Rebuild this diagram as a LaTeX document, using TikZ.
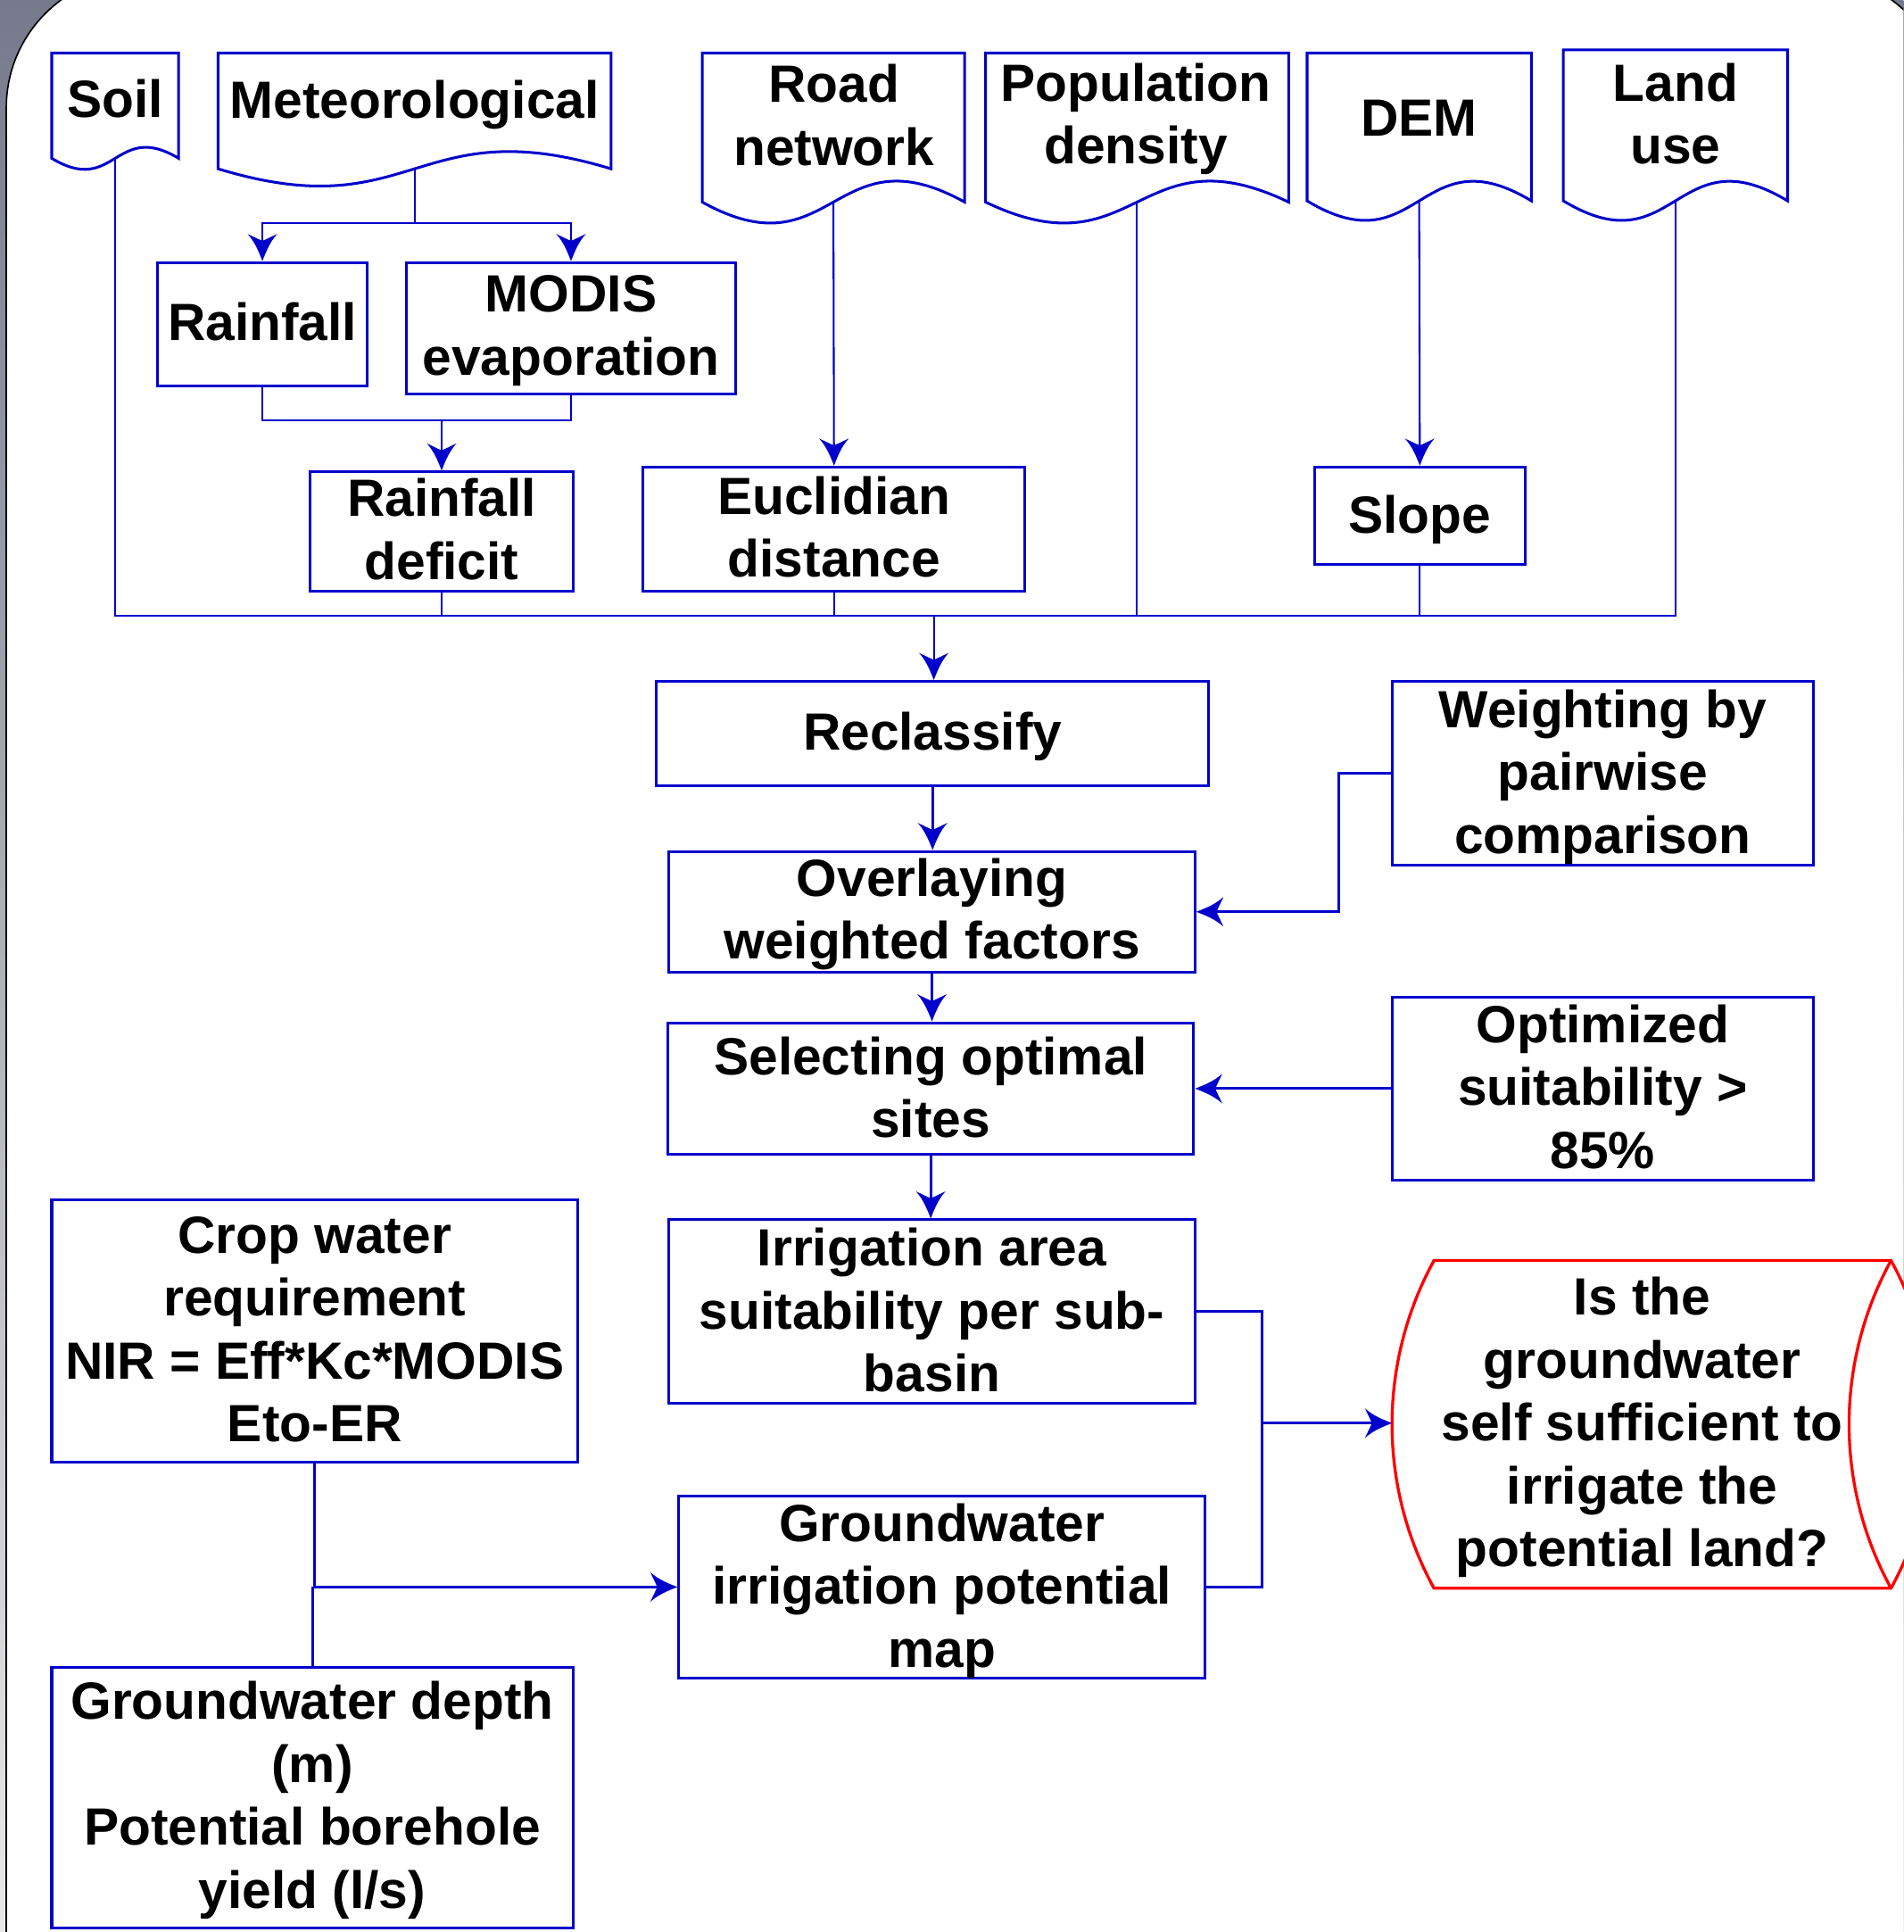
\documentclass[tikz,border=0pt]{standalone}
\usepackage{fontspec}
\setmainfont{Liberation Sans}
\usetikzlibrary{arrows.meta,calc}
\definecolor{lb}{RGB}{0,0,204}
\definecolor{rd}{RGB}{255,0,0}
\definecolor{gtop}{RGB}{118,122,140}
\definecolor{gbot}{RGB}{232,232,232}
\pgfdeclarearrow{
  name = Swept,
  setup code = {
    \pgfarrowssettipend{0pt}
    \pgfarrowssetlineend{-7.5pt}
    \pgfarrowssetvisualbackend{-11pt}
    \pgfarrowssetbackend{-11pt}
    \pgfarrowshullpoint{0pt}{0pt}
    \pgfarrowsupperhullpoint{-11pt}{6pt}
  },
  drawing code = {
    \pgfpathmoveto{\pgfpointorigin}
    \pgfpathcurveto{\pgfpoint{-3pt}{1.2pt}}{\pgfpoint{-7.5pt}{2.8pt}}{\pgfpoint{-11pt}{6pt}}
    \pgfpathcurveto{\pgfpoint{-9.8pt}{3.4pt}}{\pgfpoint{-8.8pt}{1.5pt}}{\pgfpoint{-8.2pt}{0pt}}
    \pgfpathcurveto{\pgfpoint{-8.8pt}{-1.5pt}}{\pgfpoint{-9.8pt}{-3.4pt}}{\pgfpoint{-11pt}{-6pt}}
    \pgfpathcurveto{\pgfpoint{-7.5pt}{-2.8pt}}{\pgfpoint{-3pt}{-1.2pt}}{\pgfpointorigin}
    \pgfpathclose
    \pgfusepathqfill
  }
}
\begin{document}
\begin{tikzpicture}[x=0.5pt,y=-0.5pt,
  txt/.style={font=\bfseries\fontsize{21.25}{25.5}\selectfont, align=center, inner sep=0pt},
  box/.style={draw=lb, line width=1.1pt, inner sep=0pt},
  doc/.style={draw=lb, line width=1.1pt, fill=white},
  thinline/.style={draw=lb, line width=0.75pt},
  conline/.style={draw=lb, line width=1.1pt},
  arrowed/.style={-{Swept}},
]
\useasboundingbox (0,0) rectangle (1545,1568);
% background
\begin{scope}
\clip (0,0) rectangle (1545,1568);
\shade[top color=gtop, bottom color=gbot] (0,0) rectangle (1545,1568);
\filldraw[fill=white, draw=black, line width=0.6pt, rounded corners=54.3pt] (5.1,-21) rectangle (1580,1700);
\end{scope}

% document shapes
\path[doc] (42,43) -- (145,43) -- (145,128.5) .. controls (93.5,97.5) and (93.5,159.5) .. (42,128.5) -- cycle;
\node[txt] (soil) at (93.5,80) {Soil};
\coordinate (soilb) at (93.5,128.5);

\path[doc] (177,43) -- (496,43) -- (496,137) .. controls (336.5,88.5) and (336.5,185.5) .. (177,137) -- cycle;
\node[txt] (met) at (336.5,85) {Meteorological};
\coordinate (metb) at (336.5,137);

\path[doc] (570,43) -- (783,43) -- (783,164) .. controls (676.5,105) and (676.5,223) .. (570,164) -- cycle;
\node[txt] (road) at (677,93.5) {Road\\network};
\coordinate (roadb) at (676.5,164);

\path[doc] (800,43) -- (1046,43) -- (1046,164) .. controls (923,105) and (923,223) .. (800,164) -- cycle;
\node[txt] (pop) at (922,96.5) {Population\\density};
\coordinate (popb) at (923,164);

\path[doc] (1061,43) -- (1243,43) -- (1243,163) .. controls (1152,108) and (1152,218) .. (1061,163) -- cycle;
\node[txt] (dem) at (1152,96) {DEM};
\coordinate (demb) at (1152,163);

\path[doc] (1269,40.5) -- (1451,40.5) -- (1451,163) .. controls (1360,108) and (1360,218) .. (1269,163) -- cycle;
\node[txt] (land) at (1360,92.5) {Land\\use};
\coordinate (landb) at (1360,163);

% boxes
\node[box, minimum width=85pt, minimum height=50pt] (rain) at (213,263) {};
\node[txt] (raint) at (213,261) {Rainfall};
\node[box, minimum width=133.5pt, minimum height=53.5pt] (modis) at (463.5,266.5) {};
\node[txt] (modist) at (463.5,268.5) {MODIS\\evaporation};
\node[box, minimum width=106.5pt, minimum height=48.5pt] (rdef) at (358.5,431.5) {};
\node[txt] (rdeft) at (358.5,429.5) {Rainfall\\deficit};
\node[box, minimum width=155pt, minimum height=50.5pt] (eucl) at (677,429.5) {};
\node[txt] (euclt) at (677,427.5) {Euclidian\\distance};
\node[box, minimum width=85.5pt, minimum height=39.5pt] (slope) at (1152.5,418.5) {};
\node[txt] (slopet) at (1152.5,421.5) {Slope};
\node[box, minimum width=224pt, minimum height=42.5pt] (recl) at (757,595.5) {};
\node[txt] (reclt) at (757,597.5) {Reclassify};
\node[box, minimum width=213.5pt, minimum height=49pt] (over) at (756.5,740) {};
\node[txt] (overt) at (756.5,742) {Overlaying\\weighted factors};
\node[box, minimum width=171pt, minimum height=74.5pt] (wght) at (1301,627.5) {};
\node[txt] (wghtt) at (1301,630.5) {Weighting by\\pairwise\\comparison};
\node[box, minimum width=213.5pt, minimum height=53.5pt] (sel) at (755.5,883.5) {};
\node[txt] (selt) at (755.5,882.5) {Selecting optimal\\sites};
\node[box, minimum width=171pt, minimum height=74.5pt] (opt) at (1301,883.5) {};
\node[txt] (optt) at (1301,882) {Optimized\\suitability >\\85\%};
\node[box, minimum width=213.5pt, minimum height=74.5pt] (irr) at (756.5,1064.5) {};
\node[txt] (irrt) at (756.5,1063.5) {Irrigation area\\suitability per sub-\\basin};
\node[box, minimum width=213.5pt, minimum height=74pt] (gwip) at (764.5,1288) {};
\node[txt] (gwipt) at (764.5,1291) {Groundwater\\irrigation potential\\map};
\node[box, minimum width=213.5pt, minimum height=106.5pt] (crop) at (255.5,1080.5) {};
\node[txt] (cropt) at (255.5,1079) {Crop water\\requirement\\NIR = Eff*Kc*MODIS\\Eto-ER};
\node[box, minimum width=211.5pt, minimum height=106pt] (gwd) at (253.5,1459) {};
\node[txt] (gwdt) at (253.5,1461) {Groundwater depth\\(m)\\Potential borehole\\yield (l/s)};

% question shape
\path[draw=rd, line width=1.2pt, fill=white] (1164,1023) -- (1535,1023) .. controls (1580.4,1105.9) and (1580.4,1206.1) .. (1535,1289) -- (1164,1289) .. controls (1118.6,1206.1) and (1118.6,1105.9) .. (1164,1023) -- cycle;
\draw[draw=rd, line width=1.2pt] (1535,1023) .. controls (1489.6,1105.9) and (1489.6,1206.1) .. (1535,1289);
\node[txt] (quest) at (1333,1158.5) {Is the\\groundwater\\self sufficient to\\irrigate the\\potential land?};
\coordinate (questin) at (1130,1155);

% top connectors
\coordinate (metj) at (336.5,181);
\coordinate (rj) at (358.5,341);
\coordinate (bus) at (758,500);
\draw[thinline] (metb) -- (metj);
\draw[thinline, arrowed] (metj) -| (rain.north);
\draw[thinline, arrowed] (metj) -| (modis.north);
\draw[thinline] (rain.south) |- (rj) -| (modis.south);
\draw[thinline, arrowed] (rj) -- (rdef.north);
\draw[thinline, arrowed] (roadb) -- (eucl.north);
\draw[thinline, arrowed] (demb) -- (slope.north);
\draw[thinline] (soilb) |- (landb |- bus) -- (landb);
\draw[thinline] (rdef.south) -- (rdef.south |- bus);
\draw[thinline] (eucl.south) -- (eucl.south |- bus);
\draw[thinline] (popb) -- (popb |- bus);
\draw[thinline] (slope.south) -- (slope.south |- bus);
\draw[thinline, arrowed] (bus) -- (bus |- recl.north);

% lower connectors
\draw[conline, arrowed] (recl.south) -- (recl.south |- over.north);
\draw[conline, arrowed] (over.south) -- (over.south |- sel.north);
\draw[conline, arrowed] (sel.south) -- (sel.south |- irr.north);
\draw[conline, arrowed] (wght.west) -- ++(-42,0) |- (over.east);
\draw[conline, arrowed] (opt.west) -- (opt.west -| sel.east);
\coordinate (rj2) at (1024.5,1155);
\draw[conline] (irr.east) -| (rj2) |- (gwip.east);
\draw[conline, arrowed] (rj2) -- (questin);
\draw[conline, arrowed] (crop.south) |- (gwip.west);
\draw[conline] (gwd.north) -- (gwd.north |- gwip.west);
\end{tikzpicture}
\end{document}
